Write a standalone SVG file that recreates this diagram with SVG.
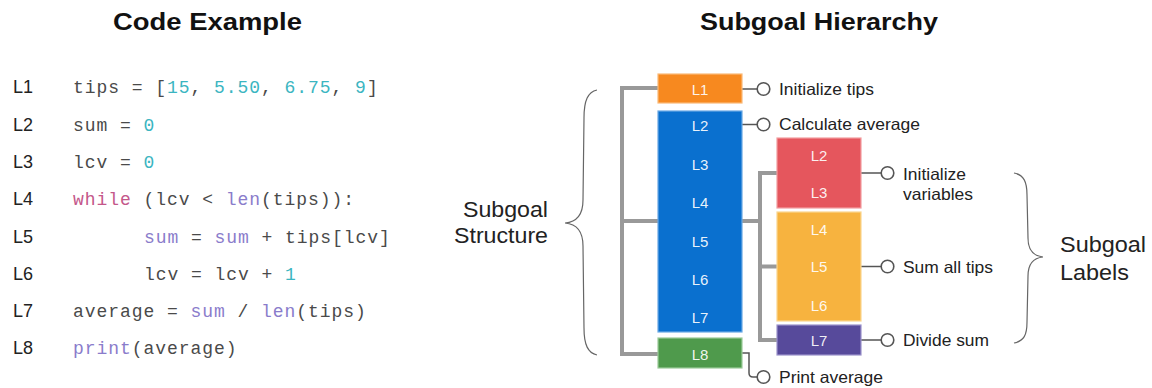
<svg xmlns="http://www.w3.org/2000/svg" width="1152" height="388" viewBox="0 0 1152 388">
<style>
.title{font-family:"Liberation Sans",Arial,sans-serif;font-weight:bold;font-size:24px;fill:#111}
.ln{font-family:"Liberation Sans",Arial,sans-serif;font-size:18px;fill:#222}
.code{font-family:"Liberation Mono","Courier New",monospace;font-size:18px;letter-spacing:0.95px;fill:#4a4a4a}
.n{fill:#3bb5c1}.k{fill:#c4578a}.f{fill:#8a7ccb}
.bx{font-family:"Liberation Sans",Arial,sans-serif;font-size:15px;fill:#fff;text-anchor:middle;fill-opacity:0.92}
.lbl{font-family:"Liberation Sans",Arial,sans-serif;font-size:16.5px;fill:#222}
.big{font-family:"Liberation Sans",Arial,sans-serif;font-size:21.5px;fill:#222}
.tree{fill:none;stroke:#999;stroke-width:4}
.thin{fill:none;stroke:#555;stroke-width:1.5}
.dot{fill:#fff;stroke:#555;stroke-width:1.6}
.brace{fill:none;stroke:#666;stroke-width:1.2}
rect{stroke-width:1.2}
</style>
<rect width="1152" height="388" fill="#fff"/>
<text class="title" x="113" y="29.5" textLength="189" lengthAdjust="spacingAndGlyphs">Code Example</text>
<text class="title" x="700" y="29.5" textLength="238" lengthAdjust="spacingAndGlyphs">Subgoal Hierarchy</text>

<g id="code">
<text class="ln" x="13" y="93.3">L1</text>
<text class="ln" x="13" y="130.6">L2</text>
<text class="ln" x="13" y="167.9">L3</text>
<text class="ln" x="13" y="205.2">L4</text>
<text class="ln" x="13" y="242.5">L5</text>
<text class="ln" x="13" y="279.8">L6</text>
<text class="ln" x="13" y="317.1">L7</text>
<text class="ln" x="13" y="354.4">L8</text>
<text class="code" x="73" y="93.3" xml:space="preserve">tips = [<tspan class="n">15</tspan>, <tspan class="n">5.50</tspan>, <tspan class="n">6.75</tspan>, <tspan class="n">9</tspan>]</text>
<text class="code" x="73" y="130.6" xml:space="preserve">sum = <tspan class="n">0</tspan></text>
<text class="code" x="73" y="167.9" xml:space="preserve">lcv = <tspan class="n">0</tspan></text>
<text class="code" x="73" y="205.2" xml:space="preserve"><tspan class="k">while</tspan> (lcv &lt; <tspan class="f">len</tspan>(tips)):</text>
<text class="code" x="144" y="242.5" xml:space="preserve"><tspan class="f">sum</tspan> = <tspan class="f">sum</tspan> + tips[lcv]</text>
<text class="code" x="144" y="279.8" xml:space="preserve">lcv = lcv + <tspan class="n">1</tspan></text>
<text class="code" x="73" y="317.1" xml:space="preserve">average = <tspan class="f">sum</tspan> / <tspan class="f">len</tspan>(tips)</text>
<text class="code" x="73" y="354.4" xml:space="preserve"><tspan class="f">print</tspan>(average)</text>
</g>

<g id="connectors">
<polyline class="tree" points="658,88 622,88 622,354 658,354"/>
<line class="tree" x1="622" y1="221" x2="658" y2="221"/>
<line class="tree" x1="742" y1="221" x2="760" y2="221"/>
<polyline class="tree" points="777,173 760,173 760,340 777,340"/>
<line class="tree" x1="760" y1="266.5" x2="777" y2="266.5"/>
<line class="thin" x1="742" y1="89" x2="757" y2="89"/>
<circle class="dot" cx="763.5" cy="89" r="6.3"/>
<line class="thin" x1="742" y1="124.5" x2="757" y2="124.5"/>
<circle class="dot" cx="763.5" cy="124.5" r="6.3"/>
<line class="thin" x1="861" y1="173" x2="881" y2="173"/>
<circle class="dot" cx="887.5" cy="173" r="6.3"/>
<line class="thin" x1="861" y1="266.5" x2="881" y2="266.5"/>
<circle class="dot" cx="887.5" cy="266.5" r="6.3"/>
<line class="thin" x1="861" y1="340" x2="881" y2="340"/>
<circle class="dot" cx="887.5" cy="340" r="6.3"/>
<path class="thin" d="M742,353 H749 V373 Q749,377 753,377 H757"/>
<circle class="dot" cx="763.5" cy="377" r="6.3"/>
</g>

<g id="L1box"><rect x="658" y="74" width="84" height="29" fill="#f7891f" stroke="#fbb978"/><text class="bx" x="700" y="94.5">L1</text></g>
<g id="blockBlue"><rect x="658" y="111" width="84" height="221" fill="#0a70cf" stroke="#6aa8e4"/>
<text class="bx" x="700" y="130.5">L2</text><text class="bx" x="700" y="169.5">L3</text><text class="bx" x="700" y="208">L4</text>
<text class="bx" x="700" y="246.5">L5</text><text class="bx" x="700" y="285">L6</text><text class="bx" x="700" y="323">L7</text></g>
<g id="L8box"><rect x="658" y="338" width="84" height="30" fill="#4f9a4c" stroke="#9ccb99"/><text class="bx" x="700" y="359.5">L8</text></g>
<g id="redBox"><rect x="777" y="138" width="84" height="70" fill="#e5565d" stroke="#f29da0"/>
<text class="bx" x="819" y="160.5">L2</text><text class="bx" x="819" y="198">L3</text></g>
<g id="yellowBox"><rect x="777" y="212" width="84" height="109" fill="#f7b33f" stroke="#fbd68f"/>
<text class="bx" x="819" y="234.5">L4</text><text class="bx" x="819" y="272">L5</text><text class="bx" x="819" y="310.5">L6</text></g>
<g id="purpleBox"><rect x="777" y="325" width="84" height="30" fill="#574a9b" stroke="#9c93cc"/><text class="bx" x="819" y="345.5">L7</text></g>

<g id="labels">
<text class="lbl" x="779" y="95" textLength="95" lengthAdjust="spacingAndGlyphs">Initialize tips</text>
<text class="lbl" x="779" y="130.3" textLength="141" lengthAdjust="spacingAndGlyphs">Calculate average</text>
<text class="lbl" x="903" y="179.5" textLength="63" lengthAdjust="spacingAndGlyphs">Initialize</text>
<text class="lbl" x="903" y="200" textLength="70" lengthAdjust="spacingAndGlyphs">variables</text>
<text class="lbl" x="903" y="272.7" textLength="90" lengthAdjust="spacingAndGlyphs">Sum all tips</text>
<text class="lbl" x="903" y="345.7" textLength="86" lengthAdjust="spacingAndGlyphs">Divide sum</text>
<text class="lbl" x="779" y="382.5" textLength="104" lengthAdjust="spacingAndGlyphs">Print average</text>
</g>

<g id="structure">
<path class="brace" d="M597,90 C588,92 584,100 584,118 L583,200 C583,215 577,222 565,223 C577,224 583,231 583,246 L584,328 C584,345 588,353 597,355"/>
<text class="big" x="463" y="216.7" textLength="85" lengthAdjust="spacingAndGlyphs">Subgoal</text>
<text class="big" x="454" y="243.3" textLength="94" lengthAdjust="spacingAndGlyphs">Structure</text>
</g>
<g id="subgoalLabels">
<path class="brace" d="M1014,173 C1024,175 1027,182 1027,195 L1028,238 C1028,250 1033,256 1043,257 C1033,258 1028,264 1028,276 L1027,322 C1027,335 1024,341 1014,343"/>
<text class="big" x="1060" y="251.7" textLength="86" lengthAdjust="spacingAndGlyphs">Subgoal</text>
<text class="big" x="1060" y="280" textLength="69" lengthAdjust="spacingAndGlyphs">Labels</text>
</g>
</svg>
